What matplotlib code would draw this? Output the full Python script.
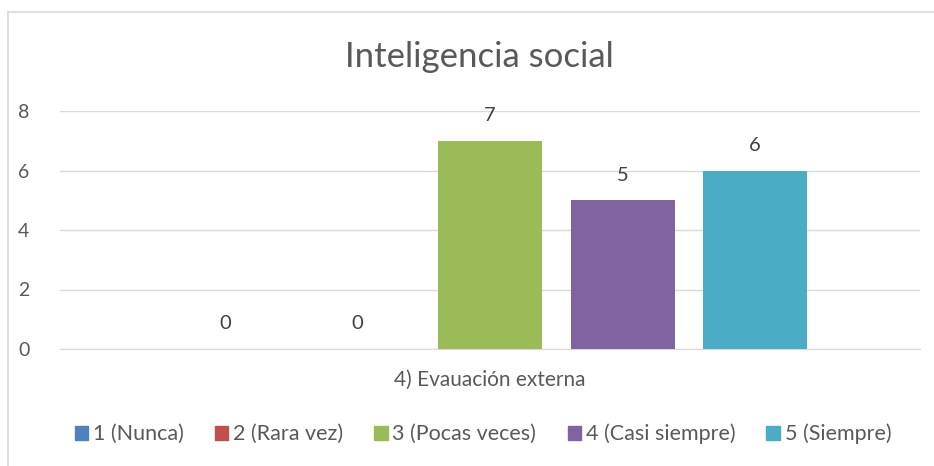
import matplotlib
matplotlib.use("Agg")
import matplotlib.pyplot as plt
from matplotlib.lines import Line2D
import numpy as np

plt.rcParams['font.family'] = ['Lato', 'DejaVu Sans']

title = "Inteligencia social"
category = "4) Evauación externa"
series = ["1 (Nunca)", "2 (Rara vez)", "3 (Pocas veces)", "4 (Casi siempre)", "5 (Siempre)"]
values = [0, 0, 7, 5, 6]
colors = ["#4F81BD", "#C0504D", "#9BBB59", "#8064A2", "#4BACC6"]
yticks = [0, 2, 4, 6, 8]

W, H = 934, 466
fig = plt.figure(figsize=(W/100, H/100), dpi=100)
ax = fig.add_axes([60/W, 1-349/H, 860/W, 238/H])

gray = "#595959"
n = len(series)
spacing = 132.5/860
width = 104/860
offsets = (np.arange(n) - (n-1)/2) * spacing
for i in range(n):
    ax.bar(offsets[i], values[i], width=width, color=colors[i], label=series[i], zorder=3)
    ax.annotate(str(values[i]), (offsets[i], values[i]), xytext=(0, 12), textcoords="offset points",
                ha="center", va="bottom", fontsize=14.5, color="#404040")

ax.set_xlim(-0.5, 0.5)
ax.set_ylim(0, 8)
ax.set_yticks(yticks)
ax.set_yticklabels([str(t) for t in yticks], fontsize=14, color=gray)
ax.set_xticks([0])
ax.set_xticklabels([category], fontsize=15, color=gray)
ax.tick_params(axis="y", length=0, pad=22)
ax.tick_params(axis="x", length=0, pad=15)
ax.grid(axis="y", color="#d9d9d9", linewidth=1, zorder=0)
for s in ["top", "right", "left"]:
    ax.spines[s].set_visible(False)
ax.spines["bottom"].set_color("#d9d9d9")
ax.set_facecolor("none")

fig.text(479/W, 1-57/H, title, ha="center", va="center", fontsize=25, color=gray)

handles = [plt.Rectangle((0, 0), 1, 1, color=c) for c in colors]
leg = fig.legend(handles, series, loc="center", bbox_to_anchor=(483/W, 1-434/H), ncol=5, frameon=False,
                 fontsize=15.5, handlelength=0.62, handleheight=0.62, handletextpad=0.22, columnspacing=1.45,
                 labelcolor=gray)

# chart border
fig.add_artist(Line2D([7.5/W, 7.5/W], [0, 1-11.5/H], color="#d9d9d9", lw=1.2))
fig.add_artist(Line2D([7.5/W, 1], [1-11.5/H, 1-11.5/H], color="#d9d9d9", lw=1.2))

fig.savefig("out.png", dpi=100)
